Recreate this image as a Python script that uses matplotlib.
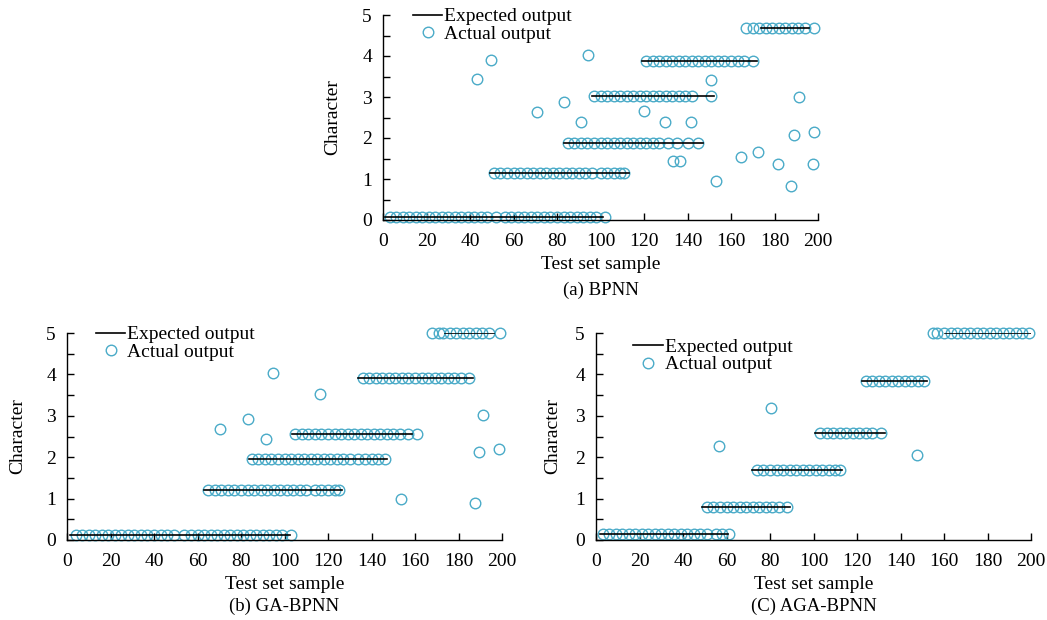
import matplotlib
matplotlib.use("Agg")
import matplotlib.pyplot as plt
from matplotlib.ticker import MultipleLocator

plt.rcParams['font.family'] = ['Liberation Serif', 'DejaVu Serif']
plt.rcParams['mathtext.fontset'] = 'stix'

# ---------------- data ----------------
# Panel (a) BPNN
a_exp_level = [0.07, 1.15, 1.89, 3.03, 3.89, 4.69]
a_exp_start = [1, 49, 83, 96, 119, 174]
a_exp_end = [101, 113, 147, 152, 172, 196]
a_lvl0_x = [3, 6, 9, 12, 15, 18, 21, 24, 27, 30, 33, 36, 39, 42, 45, 48, 52, 56, 59,
            62, 65, 68, 71, 74, 77, 80, 83, 86, 89, 92, 95, 98, 102]
a_lvl1_x = [51, 54, 57, 60, 63, 66, 69, 72, 75, 78, 81, 84, 87, 90, 93, 96, 100, 103,
            106, 109, 111]
a_lvl2_x = [85, 88, 91, 94, 97, 100, 103, 106, 109, 112, 115, 118, 121, 124, 127, 131,
            135, 140, 145]
a_lvl3_x = [97, 100, 103, 106, 109, 112, 115, 118, 121, 124, 127, 130, 133, 136, 139,
            142, 151]
a_lvl4_x = [121, 124, 127, 130, 133, 136, 139, 142, 145, 148, 151, 154, 157, 160, 163,
            166, 170]
a_lvl5_x = [167, 170, 173, 176, 179, 182, 185, 188, 191, 194, 198]
a_out_x = [43, 49.7, 70.6, 83, 90.9, 94.4, 120.2, 129.5, 141.8, 150.6, 133.5, 136.6,
           153.2, 164.4, 172.2, 181.4, 187.6, 189.1, 191.3, 197.7, 198.3]
a_out_y = [3.45, 3.91, 2.63, 2.89, 2.40, 4.02, 2.65, 2.39, 2.39, 3.41, 1.44, 1.44,
           0.94, 1.54, 1.66, 1.37, 0.82, 2.08, 3.00, 1.37, 2.14]

# Panel (b) GA-BPNN
b_exp_level = [0.12, 1.21, 1.95, 2.55, 3.91, 5.0]
b_exp_start = [1.5, 62.8, 83.5, 103.4, 134, 174]
b_exp_end = [102.7, 126.4, 147.1, 158.6, 186.7, 196.2]
b_lvl0_x = [4, 7, 10, 13, 16, 19, 22, 25, 28, 31, 34, 37, 40, 43, 46, 49, 54, 57, 60,
            63, 66, 69, 72, 75, 78, 81, 84, 87, 90, 93, 96, 99, 103]
b_lvl1_x = [65, 68, 71, 74, 77, 80, 83, 86, 89, 92, 95, 98, 101, 104, 107, 110, 114,
            117, 120, 123, 125]
b_lvl2_x = [85, 88, 91, 94, 97, 100, 103, 106, 109, 112, 115, 118, 121, 124, 127, 130,
            134, 137, 140, 143, 146]
b_lvl3_x = [105, 108, 111, 114, 117, 120, 123, 126, 129, 132, 135, 138, 141, 144, 147,
            150, 153, 157, 161]
b_lvl4_x = [136, 139, 142, 145, 148, 151, 154, 157, 160, 163, 166, 169, 172, 175, 178,
            181, 185]
b_lvl5_x = [168, 171, 173, 176, 179, 182, 185, 188, 191, 194, 199]
b_out_x = [70.5, 83.1, 91.3, 94.7, 116.1, 153.6, 187.4, 189.3, 191.1, 198.8]
b_out_y = [2.67, 2.92, 2.45, 4.04, 3.52, 1.00, 0.89, 2.13, 3.03, 2.19]

# Panel (C) AGA-BPNN
c_exp_level = [0.14, 0.79, 1.70, 2.59, 3.85, 5.0]
c_exp_start = [1.8, 48.6, 71.6, 100.7, 122.2, 160.5]
c_exp_end = [60.5, 89.2, 112.9, 132.9, 152, 200]
c_lvl0_x = [3, 6, 9, 12, 15, 18, 21, 24, 27, 30, 33, 36, 39, 42, 45, 48, 51, 55, 58, 61]
c_lvl1_x = [51, 54, 57, 60, 63, 66, 69, 72, 75, 78, 81, 84, 88]
c_lvl2_x = [74, 77, 80, 83, 86, 89, 92, 95, 98, 101, 104, 107, 110, 112]
c_lvl3_x = [103, 106, 109, 112, 115, 118, 121, 124, 127, 131]
c_lvl4_x = [124, 127, 130, 133, 136, 139, 142, 145, 148, 151]
c_lvl5_x = [155, 157, 160, 163, 166, 169, 172, 175, 178, 181, 184, 187, 190, 193, 196, 199]
c_out_x = [56.6, 80.3, 147.4]
c_out_y = [2.27, 3.18, 2.06]

x_ticks = [0, 20, 40, 60, 80, 100, 120, 140, 160, 180, 200]
y_ticks = [0, 1, 2, 3, 4, 5]
captions = ["(a) BPNN", "(b) GA-BPNN", "(C) AGA-BPNN"]

panels = [
    (a_exp_level, a_exp_start, a_exp_end,
     [a_lvl0_x, a_lvl1_x, a_lvl2_x, a_lvl3_x, a_lvl4_x, a_lvl5_x], a_out_x, a_out_y),
    (b_exp_level, b_exp_start, b_exp_end,
     [b_lvl0_x, b_lvl1_x, b_lvl2_x, b_lvl3_x, b_lvl4_x, b_lvl5_x], b_out_x, b_out_y),
    (c_exp_level, c_exp_start, c_exp_end,
     [c_lvl0_x, c_lvl1_x, c_lvl2_x, c_lvl3_x, c_lvl4_x, c_lvl5_x], c_out_x, c_out_y),
]

# ---------------- layout ----------------
W, H = 1047, 620
fig = plt.figure(figsize=(W / 100, H / 100), dpi=100)

# pixel boxes (left, top, right, bottom)
boxes = [(383, 15, 818, 220), (67, 333, 502, 540), (596, 333, 1031, 540)]
legend_anchor = [(0.069, 1.035), (0.067, 1.035), (0.086, 0.975)]
ylabel_x = [341, 26, 561]

circ_color = '#4aabc8'
fs = 14

for i, (box, pdata) in enumerate(zip(boxes, panels)):
    l, t, r, b = box
    ax = fig.add_axes([l / W, 1 - b / H, (r - l) / W, (b - t) / H])
    levels, starts, ends, lvl_xs, out_x, out_y = pdata

    # expected output segments
    for k, (lv, s, e) in enumerate(zip(levels, starts, ends)):
        ax.plot([s, e], [lv, lv], color='black', lw=1.2, zorder=3,
                label='Expected output' if k == 0 else None)

    # actual output points
    xs, ys = [], []
    for lv, lx in zip(levels, lvl_xs):
        xs += lx
        ys += [lv] * len(lx)
    xs += out_x
    ys += out_y
    ax.plot(xs, ys, linestyle='none', marker='o', markersize=7.6,
            markerfacecolor='none', markeredgecolor=circ_color, markeredgewidth=1.0,
            zorder=2, clip_on=False, label='Actual output')

    ax.set_xlim(0, 200)
    ax.set_ylim(0, 5)
    ax.set_xticks(x_ticks)
    ax.set_yticks(y_ticks)
    ax.yaxis.set_minor_locator(MultipleLocator(0.5))
    ax.tick_params(axis='both', which='both', direction='in', labelsize=fs,
                   width=1.0, color='black')
    ax.tick_params(axis='x', which='major', length=5, pad=9)
    ax.tick_params(axis='y', which='major', length=5, pad=8)
    ax.tick_params(axis='y', which='minor', length=5)
    for sp in ['top', 'right']:
        ax.spines[sp].set_visible(False)
    for sp in ['left', 'bottom']:
        ax.spines[sp].set_linewidth(1.0)

    ax.set_xlabel('Test set sample', fontsize=fs, labelpad=5)
    ax.set_ylabel('Character', fontsize=fs)
    ax.yaxis.set_label_coords((ylabel_x[i] - l) / (r - l), 0.5)

    leg = ax.legend(loc='upper left', bbox_to_anchor=legend_anchor[i], frameon=False,
                    fontsize=fs, borderpad=0, borderaxespad=0, handlelength=1.5,
                    handletextpad=0.1, labelspacing=0.0)

    # caption
    cap_y = b + 70 if i == 0 else b + 66
    fig.text((l + r) / 2 / W, 1 - cap_y / H, captions[i], ha='center', va='center',
             fontsize=13.5)

fig.savefig('out.png', dpi=100)
